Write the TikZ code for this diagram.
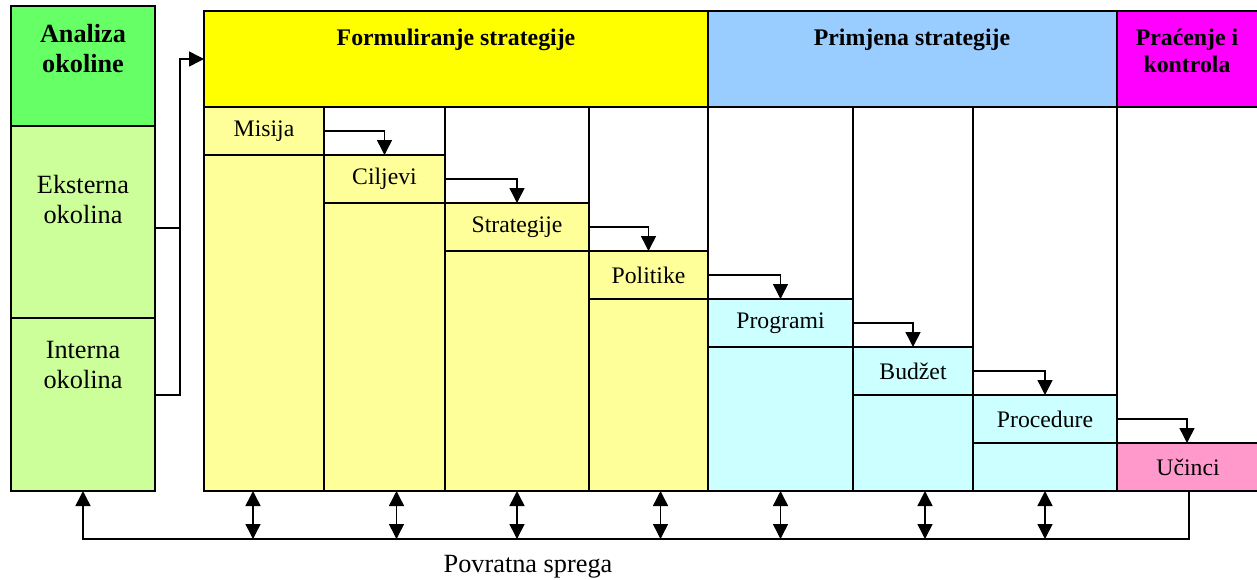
\documentclass[tikz,border=0pt]{standalone}
\usepackage{fontspec}
\setmainfont{Liberation Serif}
\usetikzlibrary{arrows.meta}
\definecolor{gHead}{HTML}{66FF66}
\definecolor{gLight}{HTML}{CCFF99}
\definecolor{yHead}{HTML}{FFFF00}
\definecolor{yLight}{HTML}{FFFF99}
\definecolor{bHead}{HTML}{99CCFF}
\definecolor{cLight}{HTML}{CCFFFF}
\definecolor{mHead}{HTML}{FF00FF}
\definecolor{pLight}{HTML}{FF99CC}
\tikzset{
  box/.style={draw=black, line width=2pt, rectangle, anchor=north west, inner sep=0pt, outer sep=0pt},
  cell/.style={box, font=\fontsize{23.7}{27}\selectfont},
  txtbig/.style={inner sep=0pt, align=center, font=\fontsize{26.3}{30}\selectfont},
  txthead/.style={inner sep=0pt, align=center, font=\bfseries\fontsize{23.8}{27}\selectfont},
  txtheadL/.style={inner sep=0pt, align=center, font=\bfseries\fontsize{26.2}{30}\selectfont},
  conn/.style={line width=1.5pt, draw=black},
  arr/.style={conn, -{Triangle[length=15pt,width=15pt]}},
  darr/.style={conn, {Triangle[length=15pt,width=15pt]}-{Triangle[length=15pt,width=15pt]}},
}
\begin{document}
\begin{tikzpicture}[x=1pt,y=-1pt]
\useasboundingbox (0,0) rectangle (1257,579);
% left column
\node[box, fill=gHead, minimum width=144pt, minimum height=120pt] (analiza) at (11,6) {};
\node[box, fill=gLight, minimum width=144pt, minimum height=192pt] (ext) at (11,126) {};
\node[box, fill=gLight, minimum width=144pt, minimum height=173pt] (int) at (11,318) {};
\node[txtheadL, anchor=base] (analizaT) at (83,72) {Analiza\\okoline};
\node[txtbig, anchor=base] (extT) at (83,223) {Eksterna\\okolina};
\node[txtbig, anchor=base] (intT) at (83,388) {Interna\\okolina};
% headers
\node[box, fill=yHead, minimum width=504pt, minimum height=96pt] (formH) at (204,11) {};
\node[box, fill=bHead, minimum width=409pt, minimum height=96pt] (primH) at (708,11) {};
\node[box, fill=mHead, minimum width=142pt, minimum height=96pt] (pracH) at (1117,11) {};
\node[txthead, anchor=base] (formT) at (456,45) {Formuliranje strategije};
\node[txthead, anchor=base] (primT) at (912,45) {Primjena strategije};
\node[txthead, anchor=base] (pracT) at (1187,72) {Praćenje i\\kontrola};
% columns (white frames)
\node[box, fill=white, minimum width=120pt, minimum height=384pt] (col1) at (204,107) {};
\node[box, fill=white, minimum width=121pt, minimum height=384pt] (col2) at (324,107) {};
\node[box, fill=white, minimum width=144pt, minimum height=384pt] (col3) at (445,107) {};
\node[box, fill=white, minimum width=119pt, minimum height=384pt] (col4) at (589,107) {};
\node[box, fill=white, minimum width=145pt, minimum height=384pt] (col5) at (708,107) {};
\node[box, fill=white, minimum width=120pt, minimum height=384pt] (col6) at (853,107) {};
\node[box, fill=white, minimum width=144pt, minimum height=384pt] (col7) at (973,107) {};
\node[box, fill=white, minimum width=142pt, minimum height=384pt] (col8) at (1117,107) {};
% bodies below labels
\node[box, fill=yLight, minimum width=120pt, minimum height=336pt] (body1) at (204,155) {};
\node[box, fill=yLight, minimum width=121pt, minimum height=288pt] (body2) at (324,203) {};
\node[box, fill=yLight, minimum width=144pt, minimum height=240pt] (body3) at (445,251) {};
\node[box, fill=yLight, minimum width=119pt, minimum height=192pt] (body4) at (589,299) {};
\node[box, fill=cLight, minimum width=145pt, minimum height=144pt] (body5) at (708,347) {};
\node[box, fill=cLight, minimum width=120pt, minimum height=96pt] (body6) at (853,395) {};
\node[box, fill=cLight, minimum width=144pt, minimum height=48pt] (body7) at (973,443) {};
% label cells
\node[cell, fill=yLight, minimum width=120pt, minimum height=48pt] (misija) at (204,107) {Misija};
\node[cell, fill=yLight, minimum width=121pt, minimum height=48pt] (ciljevi) at (324,155) {Ciljevi};
\node[cell, fill=yLight, minimum width=144pt, minimum height=48pt] (strat) at (445,203) {Strategije};
\node[cell, fill=yLight, minimum width=119pt, minimum height=48pt] (polit) at (589,251) {Politike};
\node[cell, fill=cLight, minimum width=145pt, minimum height=48pt] (progr) at (708,299) {Programi};
\node[cell, fill=cLight, minimum width=120pt, minimum height=48pt] (budzet) at (853,347) {Budžet};
\node[cell, fill=cLight, minimum width=144pt, minimum height=48pt] (proc) at (973,395) {Procedure};
\node[cell, fill=pLight, minimum width=142pt, minimum height=48pt] (ucinci) at (1117,443) {Učinci};
% step arrows
\draw[arr] (misija.east) -| (ciljevi.north);
\draw[arr] (ciljevi.east) -| (strat.north);
\draw[arr] (strat.east) -| (polit.north);
\draw[arr] (polit.east) -| (progr.north);
\draw[arr] (progr.east) -| (budzet.north);
\draw[arr] (budzet.east) -| (proc.north);
\draw[arr] ([xshift=-1pt]proc.east) -| ([xshift=-1pt]ucinci.north);
% left connectors
\coordinate (jtop) at (180,59);
\coordinate (jmid) at (180,228);
\draw[conn] ([yshift=-6pt]ext.east) -- (jmid);
\draw[arr] ([yshift=9.5pt]int.east) -| (jtop) -- (formH.west);
% feedback
\coordinate (fbL) at (83,539);
\draw[arr] ([xshift=1pt]ucinci.south) |- (fbL) -- (int.south);
\draw[darr] ([xshift=-11pt]col1.south) -- ([xshift=-11pt]col1.south |- fbL);
\draw[darr] ([xshift=12pt]col2.south) -- ([xshift=12pt]col2.south |- fbL);
\draw[darr] (col3.south) -- (col3.south |- fbL);
\draw[darr] ([xshift=12pt]col4.south) -- ([xshift=12pt]col4.south |- fbL);
\draw[darr] (col5.south) -- (col5.south |- fbL);
\draw[darr] ([xshift=12pt]col6.south) -- ([xshift=12pt]col6.south |- fbL);
\draw[darr] (col7.south) -- (col7.south |- fbL);
\node[txtbig, anchor=base] (povr) at (528,572) {Povratna sprega};
\end{tikzpicture}
\end{document}
